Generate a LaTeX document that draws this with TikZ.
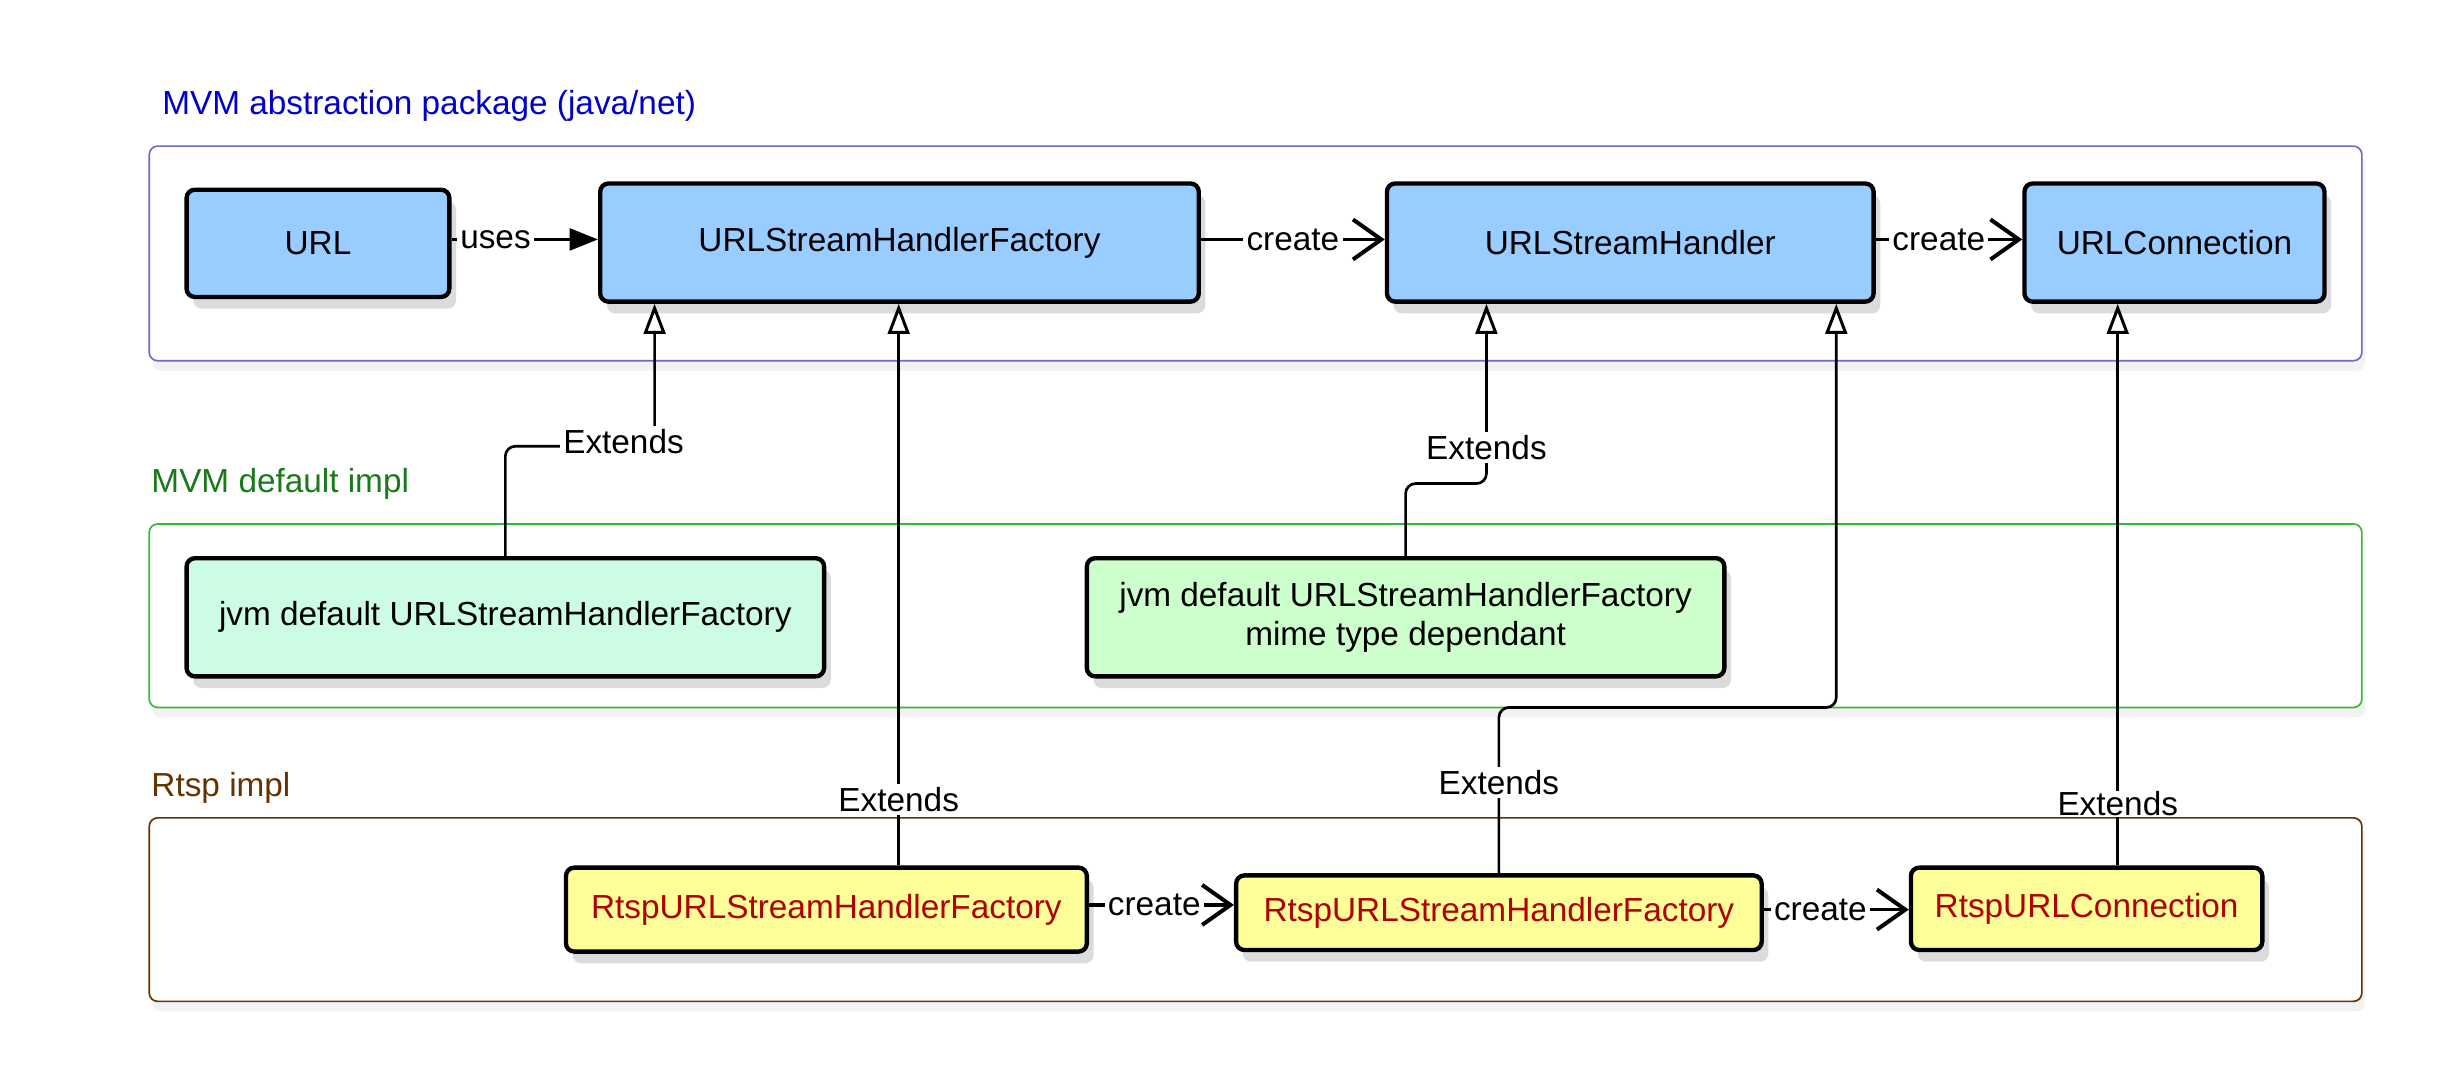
\documentclass[tikz,border=0pt]{standalone}
\usepackage{fontspec}
\setmainfont{Liberation Sans}
\usetikzlibrary{arrows.meta,shadows,calc}
\definecolor{boxblue}{HTML}{99CCFF}
\definecolor{mint}{HTML}{CCFCE4}
\definecolor{lgreen}{HTML}{CCFFCC}
\definecolor{lyellow}{HTML}{FFFF99}
\definecolor{rtred}{HTML}{B00000}
\definecolor{tblue}{HTML}{0000CC}
\definecolor{tgreen}{HTML}{1A7A1A}
\definecolor{tbrown}{HTML}{663300}
\definecolor{gblue}{HTML}{6C6CCC}
\definecolor{ggreen}{HTML}{33BB33}
\newcommand\pxu{0.4664pt}
\begin{document}
\begin{tikzpicture}[x=0.4664pt,y={(0pt,-0.4664pt)},
  font=\fontsize{10}{11.7}\selectfont,
  box/.style={draw, line width=1.3pt, rounded corners=2.5pt, inner sep=0pt, align=center,
    drop shadow={shadow xshift=2pt, shadow yshift=-3.5pt, opacity=0.28}},
  grp/.style={draw, line width=0.5pt, rounded corners=2.5pt, inner sep=0pt, fill=white,
    drop shadow={shadow xshift=1pt, shadow yshift=-3pt, opacity=0.10}},
  gtitle/.style={anchor=west, inner sep=0pt},
  lab/.style={fill=white, inner sep=1pt},
  ext/.style={line width=0.8pt, rounded corners=3pt, -{Triangle[open, fill=white, length=9pt, width=6.5pt, line width=0.9pt]}},
  crt/.style={line width=1pt, -{Straight Barb[length=8.5pt, width=12pt, line width=1.2pt]}},
  use/.style={line width=1pt, -{Triangle[length=8.5pt, width=6.5pt]}}
]
\fill[white] (0,0) rectangle (1568,693);
\useasboundingbox (0,0) rectangle (1568,693);

% groups
\node[grp, draw=gblue, minimum width=1423*\pxu, minimum height=138*\pxu] (gA) at (807.5,163) {};
\node[grp, draw=ggreen, minimum width=1423*\pxu, minimum height=118*\pxu] (gB) at (807.5,396) {};
\node[grp, draw=tbrown, minimum width=1423*\pxu, minimum height=118*\pxu] (gC) at (807.5,585) {};

\node[gtitle, text=tblue] (tA) at (104,68) {MVM abstraction package (java/net)};
\node[gtitle, text=tgreen] (tB) at (97,311) {MVM default impl};
\node[gtitle, text=tbrown] (tC) at (97,507) {Rtsp impl};

% top row
\node[box, fill=boxblue, minimum width=169*\pxu, minimum height=69*\pxu] (url) at (204.5,156.5) {URL};
\node[box, fill=boxblue, minimum width=385*\pxu, minimum height=76*\pxu] (fac) at (578.5,156) {URLStreamHandlerFactory};
\node[box, fill=boxblue, minimum width=313*\pxu, minimum height=76*\pxu] (hdl) at (1048.5,156) {URLStreamHandler};
\node[box, fill=boxblue, minimum width=193*\pxu, minimum height=76*\pxu] (con) at (1398.5,156) {URLConnection};

% middle row
\node[box, fill=mint, minimum width=410*\pxu, minimum height=76*\pxu] (j1) at (325,397) {jvm default URLStreamHandlerFactory};
\node[box, fill=lgreen, minimum width=410*\pxu, minimum height=76*\pxu] (j2) at (904,397) {jvm default URLStreamHandlerFactory\\mime type dependant};

% bottom row
\node[box, fill=lyellow, text=rtred, minimum width=335*\pxu, minimum height=54*\pxu] (r1) at (531.5,585) {RtspURLStreamHandlerFactory};
\node[box, fill=lyellow, text=rtred, minimum width=338*\pxu, minimum height=48*\pxu] (r2) at (964,587) {RtspURLStreamHandlerFactory};
\node[box, fill=lyellow, text=rtred, minimum width=226*\pxu, minimum height=53*\pxu] (r3) at (1342,584.5) {RtspURLConnection};

% helper coordinates
\coordinate (xa) at (421,287);
\coordinate (xb) at (578,0);
\coordinate (xc) at (956,311);
\coordinate (xd) at (1181,455);
\coordinate (xe) at (1362,0);

% top arrows
\draw[use] (url.east |- 0,154) -- node[lab, pos=0.3] (lu) {uses} (fac.west |- 0,154);
\draw[crt] (fac.east |- 0,154) -- node[lab, pos=0.5] (lc1) {create} (hdl.west |- 0,154);
\draw[crt] (hdl.east |- 0,154) -- node[lab, pos=0.43] (lc2) {create} (con.west |- 0,154);

% bottom arrows
\draw[crt] (r1.east |- 0,582) -- node[lab, pos=0.45] (lc3) {create} (r2.west |- 0,582);
\draw[crt] (r2.east |- 0,585) -- node[lab, pos=0.39] (lc4) {create} (r3.west |- 0,585);

% extends
\draw[ext] (j1.north) |- (xa) -- (fac.south -| xa);
\node[lab] (le1) at (401,284) {Extends};

\draw[ext] (r1.north -| xb) -- (fac.south -| xb);
\node[lab] (le2) at (578,514) {Extends};

\draw[ext] (j2.north) |- (xc) -- (hdl.south -| xc);
\node[lab] (le3) at (956,288) {Extends};

\draw[ext] (r2.north) |- (xd) -- (hdl.south -| xd);
\node[lab] (le4) at (964,503) {Extends};

\draw[ext] (r3.north -| xe) -- (con.south -| xe);
\node[lab, inner sep=0.3pt] (le5) at (1362,517) {Extends};
\end{tikzpicture}
\end{document}
